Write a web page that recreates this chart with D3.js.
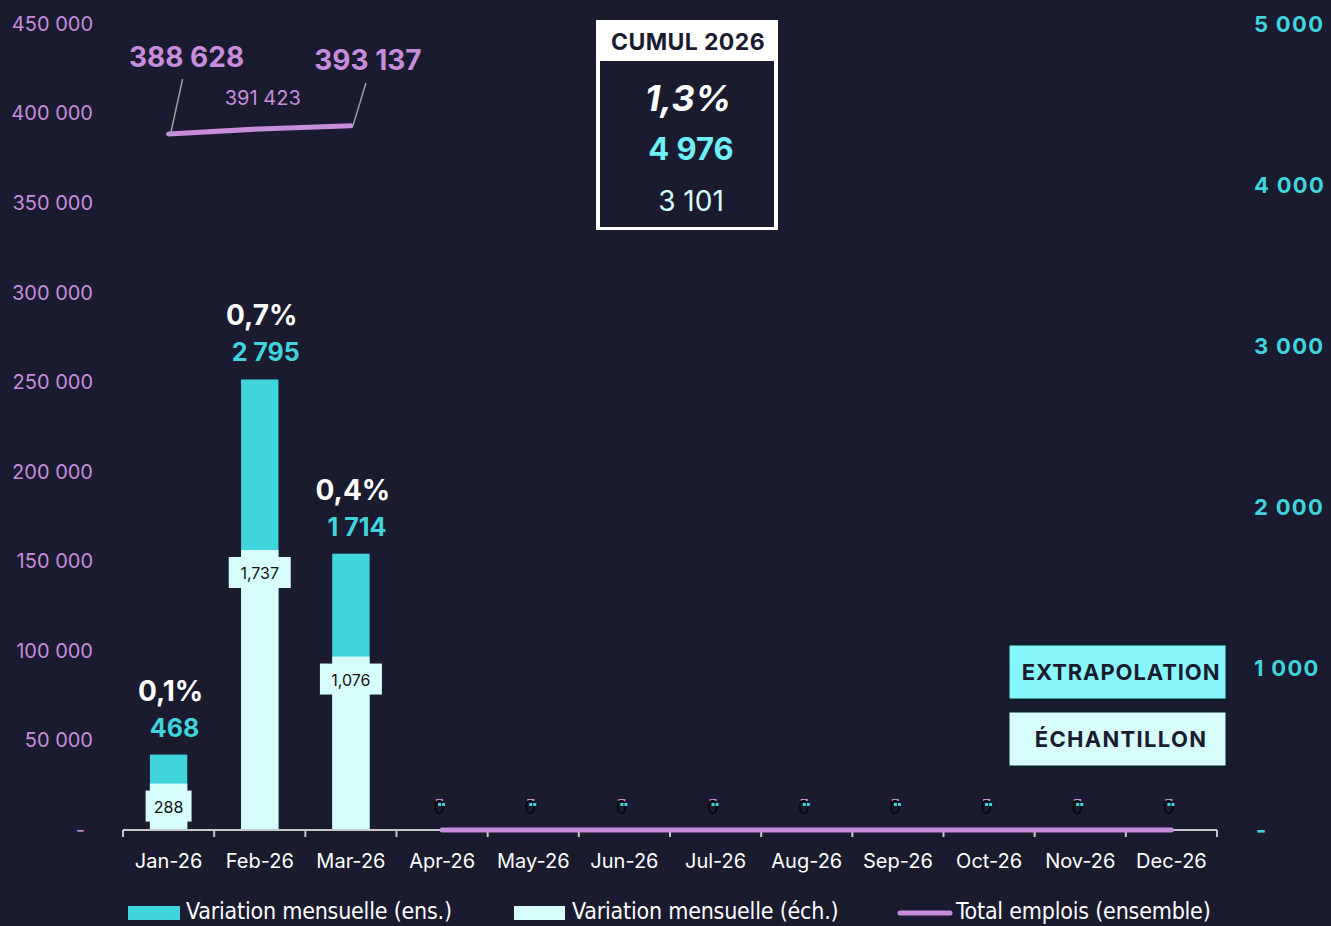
<!DOCTYPE html>
<html>
<head>
<meta charset="utf-8">
<script src="https://cdn.jsdelivr.net/npm/d3@7"></script>
<style>
  body { margin: 0; background: #1a1b2e; }
  svg { display: block; }
</style>
</head>
<body>
<div id="chart"></div>
<script>
// data
var months = ["Jan-26","Feb-26","Mar-26","Apr-26","May-26","Jun-26","Jul-26","Aug-26","Sep-26","Oct-26","Nov-26","Dec-26"];
var ensValues = [468, 2795, 1714, 0, 0, 0, 0, 0, 0, 0, 0, 0];
var echValues = [288, 1737, 1076, 0, 0, 0, 0, 0, 0, 0, 0, 0];
var totalEmplois = [388628, 391423, 393137, 0, 0, 0, 0, 0, 0, 0, 0, 0];
var pctLabels = ["0,1%", "0,7%", "0,4%"];
var leftTicks = [0, 50000, 100000, 150000, 200000, 250000, 300000, 350000, 400000, 450000];
var rightTicks = [0, 1000, 2000, 3000, 4000, 5000];
var cumulPct = "1,3%";
var cumulEns = 4976;
var cumulEch = 3101;
var legendLabels = ["Variation mensuelle (ens.)", "Variation mensuelle (éch.)", "Total emplois (ensemble)"];

var width = 1331, height = 926;
var bg = "#1a1b2e", cyan = "#40d4dc", light = "#d6fcfc", purple = "#c88cdc";
var font = "Inter, 'Noto Sans', sans-serif";

var fr = d3.formatLocale({decimal: ",", thousands: "\u00a0", grouping: [3], currency: ["", " €"]});
var fmtFr = fr.format(",");
var fmtEn = d3.format(",");

var svg = d3.select("#chart").append("svg")
    .attr("width", width)
    .attr("height", height)
    .style("background", bg)
    .style("font-family", font);

var x = d3.scaleBand().domain(months).range([123, 1217]);
var yL = d3.scaleLinear().domain([0, 450000]).range([830, 24]);
var yR = d3.scaleLinear().domain([0, 5000]).range([830, 24]);
var barW = x.bandwidth() * 0.41;

// left axis
var leftAxis = svg.append("g")
    .attr("transform", "translate(93,0)")
    .call(d3.axisLeft(yL).tickValues(leftTicks).tickSize(0).tickPadding(0)
        .tickFormat(d => d === 0 ? "-" : fmtFr(d)));
leftAxis.select(".domain").remove();
leftAxis.selectAll("text")
    .attr("fill", purple)
    .style("font-size", "20px")
    .style("font-family", font)
    .attr("dx", d => d === 0 ? -8 : 0);

// right axis
var rightAxis = svg.append("g")
    .attr("transform", "translate(1254,0)")
    .call(d3.axisRight(yR).tickValues(rightTicks).tickSize(0).tickPadding(0)
        .tickFormat(d => d === 0 ? "-" : fmtFr(d)));
rightAxis.select(".domain").remove();
rightAxis.selectAll("text")
    .attr("fill", cyan)
    .style("font-size", "22px")
    .style("font-weight", "bold")
    .style("letter-spacing", "1.3px")
    .style("font-family", font)
    .attr("dx", d => d === 0 ? 2 : 0);

// bars ens.
svg.append("g").selectAll("rect")
    .data(months)
    .join("rect")
    .attr("x", (d, i) => x(d) + (x.bandwidth() - barW) / 2)
    .attr("y", (d, i) => yR(ensValues[i]))
    .attr("width", barW)
    .attr("height", (d, i) => yR(0) - yR(ensValues[i]))
    .attr("fill", cyan);

// bars éch.
svg.append("g").selectAll("rect")
    .data(months)
    .join("rect")
    .attr("x", (d, i) => x(d) + (x.bandwidth() - barW) / 2)
    .attr("y", (d, i) => yR(echValues[i]))
    .attr("width", barW)
    .attr("height", (d, i) => yR(0) - yR(echValues[i]))
    .attr("fill", light);

// x axis baseline + ticks
var xb = svg.append("g");
xb.append("line")
    .attr("x1", 123).attr("x2", 1217)
    .attr("y1", 830).attr("y2", 830)
    .attr("stroke", "#c8c8c8").attr("stroke-width", 2);
xb.selectAll(".tk")
    .data(months.concat(["end"]))
    .join("line")
    .attr("x1", (d, i) => 123 + i * x.step())
    .attr("x2", (d, i) => 123 + i * x.step())
    .attr("y1", 830).attr("y2", 837)
    .attr("stroke", "#c8c8c8").attr("stroke-width", 2);

var xAxis = svg.append("g")
    .attr("transform", "translate(0,848)")
    .call(d3.axisBottom(x).tickSize(0).tickPadding(0));
xAxis.select(".domain").remove();
xAxis.selectAll("text")
    .attr("fill", "#ffffff")
    .attr("dy", "1em")
    .style("font-size", "20px")
    .style("font-family", font);

// total emplois line (two pieces)
var line = d3.line()
    .x(d => x(d.m) + x.bandwidth() / 2)
    .y(d => yL(d.v));
var pts = months.map((m, i) => ({m: m, v: totalEmplois[i]}));
[pts.slice(0, 3), pts.slice(3)].forEach(seg => {
    svg.append("path")
        .datum(seg)
        .attr("d", line)
        .attr("fill", "none")
        .attr("stroke", purple)
        .attr("stroke-width", 5)
        .attr("stroke-linecap", "round");
});

// total labels
var cx = i => x(months[i]) + x.bandwidth() / 2;
svg.append("line")
    .attr("x1", cx(0) + 14).attr("y1", 79)
    .attr("x2", cx(0) + 2).attr("y2", yL(totalEmplois[0]))
    .attr("stroke", "#a0a0a0").attr("stroke-width", 1.5);
svg.append("line")
    .attr("x1", cx(2) + 15).attr("y1", 83)
    .attr("x2", cx(2) + 2).attr("y2", yL(totalEmplois[2]))
    .attr("stroke", "#a0a0a0").attr("stroke-width", 1.5);
svg.append("text")
    .attr("x", cx(0) + 18).attr("y", 67)
    .attr("text-anchor", "middle")
    .attr("fill", purple)
    .style("font-size", "28px").style("font-weight", "bold")
    .text(fmtFr(totalEmplois[0]));
svg.append("text")
    .attr("x", cx(1) + 3).attr("y", 105)
    .attr("text-anchor", "middle")
    .attr("fill", purple)
    .style("font-size", "20px")
    .text(fmtFr(totalEmplois[1]));
svg.append("text")
    .attr("x", cx(2) + 17).attr("y", 70)
    .attr("text-anchor", "middle")
    .attr("fill", purple)
    .style("font-size", "28px").style("font-weight", "bold")
    .text(fmtFr(totalEmplois[2]));

// pct and ens labels above bars
pctLabels.forEach((p, i) => {
    var top = yR(ensValues[i]);
    svg.append("text")
        .attr("x", cx(i) + 2).attr("y", top - 54)
        .attr("text-anchor", "middle")
        .attr("fill", "#ffffff")
        .style("font-size", "28px").style("font-weight", "bold")
        .text(p);
    svg.append("text")
        .attr("x", cx(i) + 6).attr("y", top - 18)
        .attr("text-anchor", "middle")
        .attr("fill", cyan)
        .style("font-size", "25px").style("font-weight", "bold")
        .text(fmtFr(ensValues[i]));
});

// éch labels in boxes
echValues.forEach((v, i) => {
    if (v === 0) return;
    var cy = yR(v) + 23;
    var t = fmtEn(v);
    var bw = t.length > 3 ? 62 : 46;
    svg.append("rect")
        .attr("x", cx(i) - bw / 2).attr("y", cy - 16)
        .attr("width", bw).attr("height", 31)
        .attr("fill", light);
    svg.append("text")
        .attr("x", cx(i)).attr("y", cy + 6)
        .attr("text-anchor", "middle")
        .attr("fill", "#111111")
        .style("font-size", "16px")
        .text(t);
});

// tiny zero labels for empty months
months.forEach((m, i) => {
    if (ensValues[i] !== 0) return;
    var c = cx(i) - 2;
    svg.append("rect").attr("x", c - 4).attr("y", 799).attr("width", 7).attr("height", 2).attr("fill", purple);
    svg.append("text").attr("x", c - 1).attr("y", 814)
        .attr("text-anchor", "middle").attr("fill", "#05050a")
        .style("font-size", "18px").text("0");
    svg.append("rect").attr("x", c - 2).attr("y", 803).attr("width", 3).attr("height", 3).attr("fill", cyan);
    svg.append("rect").attr("x", c + 2).attr("y", 803).attr("width", 3).attr("height", 3).attr("fill", cyan);
});

// cumul box
var box = svg.append("g");
box.append("rect")
    .attr("x", 596).attr("y", 20).attr("width", 182).attr("height", 210)
    .attr("fill", "#ffffff");
box.append("rect")
    .attr("x", 600).attr("y", 61).attr("width", 174).attr("height", 166)
    .attr("fill", bg);
box.append("text")
    .attr("x", 688).attr("y", 50).attr("text-anchor", "middle")
    .attr("fill", "#1a1b2e")
    .style("font-size", "23px").style("font-weight", "bold")
    .style("letter-spacing", "0.4px")
    .text("CUMUL 2026");
box.append("text")
    .attr("x", 688).attr("y", 111).attr("text-anchor", "middle")
    .attr("fill", "#ffffff")
    .style("font-size", "36px").style("font-weight", "bold").style("font-style", "italic")
    .text(cumulPct);
box.append("text")
    .attr("x", 691).attr("y", 160).attr("text-anchor", "middle")
    .attr("fill", "#6ff0f6")
    .style("font-size", "31px").style("font-weight", "bold")
    .text(fmtFr(cumulEns));
box.append("text")
    .attr("x", 691).attr("y", 211).attr("text-anchor", "middle")
    .attr("fill", "#d6fcfc")
    .style("font-size", "28px")
    .text(fmtFr(cumulEch));

// extrapolation / échantillon tags
[["EXTRAPOLATION", "#88f7fb", 644, 0.9], ["ÉCHANTILLON", light, 711, 1.3]].forEach(t => {
    svg.append("rect")
        .attr("x", 1008).attr("y", t[2]).attr("width", 219).attr("height", 56)
        .attr("fill", t[1]).attr("stroke", "#0e1f2a").attr("stroke-width", 3);
    svg.append("text")
        .attr("x", 1121).attr("y", t[2] + 36).attr("text-anchor", "middle")
        .attr("fill", "#1a1b2e")
        .style("font-size", "22px").style("font-weight", "bold")
        .style("letter-spacing", t[3] + "px")
        .text(t[0]);
});

// legend
var legend = svg.append("g").style("font-family", "'DejaVu Sans Condensed', 'Liberation Sans Narrow', " + font);
var lx = [128, 514, 898];
legend.append("rect").attr("x", lx[0]).attr("y", 906).attr("width", 52).attr("height", 14).attr("fill", cyan);
legend.append("rect").attr("x", lx[1]).attr("y", 906).attr("width", 51).attr("height", 14).attr("fill", light);
legend.append("line").attr("x1", lx[2] + 2).attr("x2", lx[2] + 52).attr("y1", 913).attr("y2", 913)
    .attr("stroke", purple).attr("stroke-width", 5).attr("stroke-linecap", "round");
legendLabels.forEach((l, i) => {
    legend.append("text")
        .attr("x", lx[i] + 58).attr("y", 919)
        .attr("fill", "#ffffff")
        .style("font-size", "23px")
        .style("letter-spacing", "-0.2px")
        .text(l);
});
</script>
</body>
</html>
